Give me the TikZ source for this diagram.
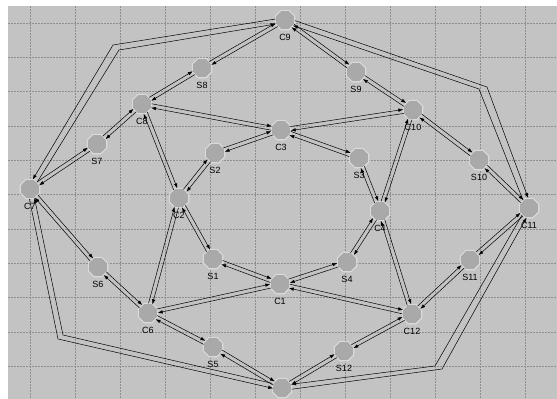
\documentclass[tikz,border=0pt]{standalone}
\usepackage{fontspec}
\setmainfont{Liberation Sans}
\usepackage{tikz}
\usetikzlibrary{arrows.meta, shapes.geometric, calc}

\definecolor{panel}{HTML}{C3C3C3}
\definecolor{gridline}{HTML}{8E8E8E}
\definecolor{nodefill}{HTML}{A9A9A9}
\definecolor{noderim}{HTML}{DADADA}

% two opposite one-way links between a pair of nodes
\newcommand\biline[2]{%
    \draw[link] ($(#1)!2pt!90:(#2)$) -- ($(#2)!2pt!-90:(#1)$);
    \draw[link] ($(#2)!2pt!90:(#1)$) -- ($(#1)!2pt!-90:(#2)$);}

\begin{document}
\begin{tikzpicture}[
    x=1pt, y=-1pt,
    every node/.style={font=\fontsize{9}{10}\selectfont},
    site/.style={regular polygon, regular polygon sides=8,
        draw=noderim, line width=1.1pt, fill=nodefill, inner sep=0pt,
        minimum size=21pt},
    lbl/.style={inner sep=0.5pt, label distance=3pt},
    link/.style={-{Latex[length=5pt, width=3.5pt]}, line width=0.5pt,
        shorten >=9.5pt, shorten <=9.5pt},
    gridrule/.style={gridline, line width=0.4pt, dash pattern=on 1.5pt off 1.5pt},
]
    \useasboundingbox (0,0) rectangle (557,399);
    % --- canvas and grid ---
    \fill[white] (0,0) rectangle (557,399);
    \fill[panel] (8,6) rectangle (557,399);
    \foreach \gx in {30,75,...,525}
        \draw[gridrule] (\gx,6) -- (\gx,399);
    \foreach \gi in {0,...,10}
        \draw[gridrule] (8,23+34.3*\gi) -- (557,23+34.3*\gi);

    % --- outer ring ---
    \node[site, label={[lbl]below:C9}] (C9) at (285,20) {};
    \node[site, label={[lbl]below:S8}] (S8) at (202,68) {};
    \node[site, label={[lbl]below:C8}] (C8) at (142,104) {};
    \node[site, label={[lbl]below:S7}] (S7) at (97,144) {};
    \node[site, label={[lbl]below:C7}] (C7) at (30,189) {};
    \node[site, label={[lbl]below:S6}] (S6) at (98,267) {};
    \node[site, label={[lbl]below:C6}] (C6) at (148,313) {};
    \node[site, label={[lbl]below:S5}] (S5) at (213,347) {};
    \node[site] (C5) at (282,388) {};
    \node[site, label={[lbl]below:S12}] (S12) at (344,351) {};
    \node[site, label={[lbl]below:C12}] (C12) at (412,314) {};
    \node[site, label={[lbl]below:S11}] (S11) at (470,260) {};
    \node[site, label={[lbl]below:C11}] (C11) at (529,208) {};
    \node[site, label={[lbl]below:S10}] (S10) at (479,160) {};
    \node[site, label={[lbl]below:C10}] (C10) at (413,110) {};
    \node[site, label={[lbl]below:S9}] (S9) at (356,72) {};

    % --- inner ring ---
    \node[site, label={[lbl]below:C3}] (C3) at (281,130) {};
    \node[site, label={[lbl]below:S2}] (S2) at (215,153) {};
    \node[site, label={[lbl]below:C2}] (C2) at (179,198) {};
    \node[site, label={[lbl]below:S1}] (S1) at (213,259) {};
    \node[site, label={[lbl]below:C1}] (C1) at (280,284) {};
    \node[site, label={[lbl]below:S4}] (S4) at (347,262) {};
    \node[site, label={[lbl]below:C4}] (C4) at (380,211) {};
    \node[site, label={[lbl]below:S3}] (S3) at (359,158) {};

    % --- straight links ---
    \foreach \a/\b in {C9/S8, S8/C8, C8/S7, S7/C7, C7/S6, S6/C6, C6/S5, S5/C5,
                       C5/S12, S12/C12, C12/S11, S11/C11, C11/S10, S10/C10,
                       C10/S9, S9/C9,
                       C3/S2, S2/C2, C2/S1, S1/C1, C1/S4, S4/C4, C4/S3, S3/C3,
                       C3/C8, C3/C10, C2/C8, C2/C6, C4/C10, C4/C12,
                       C1/C6, C1/C12}
        \biline{\a}{\b};

    % --- long links round the edge ---
    \coordinate (bendNWo) at (113,45);
    \coordinate (bendNWi) at (119,50);
    \coordinate (bendNEo) at (487,87);
    \coordinate (bendNEi) at (479,89);
    \coordinate (bendSWo) at (58,339);
    \coordinate (bendSWi) at (63,335);
    \coordinate (bendSEo) at (442,369);
    \coordinate (bendSEi) at (435,366);

    \draw[link] ($(C9)+(0,-2.5)$) -- (bendNWo) -- ($(C7)+(-2.2,-1.2)$);
    \draw[link] ($(C7)+(2.2,1.2)$) -- (bendNWi) -- ($(C9)+(0,2.5)$);
    \draw[link] ($(C9)+(1,-2.5)$) -- (bendNEo) -- ($(C11)+(2.5,-1)$);
    \draw[link] ($(C11)+(-2.5,1)$) -- (bendNEi) -- ($(C9)+(-1,2.5)$);
    \draw[link] ($(C7)+(-2.5,0.5)$) -- (bendSWo) -- ($(C5)+(0.5,2.5)$);
    \draw[link] ($(C5)+(-0.5,-2.5)$) -- (bendSWi) -- ($(C7)+(2.5,-0.5)$);
    \draw[link] ($(C5)+(0.3,2.5)$) -- (bendSEo) -- ($(C11)+(2.2,1.2)$);
    \draw[link] ($(C11)+(-2.2,-1.2)$) -- (bendSEi) -- ($(C5)+(-0.3,-2.5)$);

\end{tikzpicture}
\end{document}
